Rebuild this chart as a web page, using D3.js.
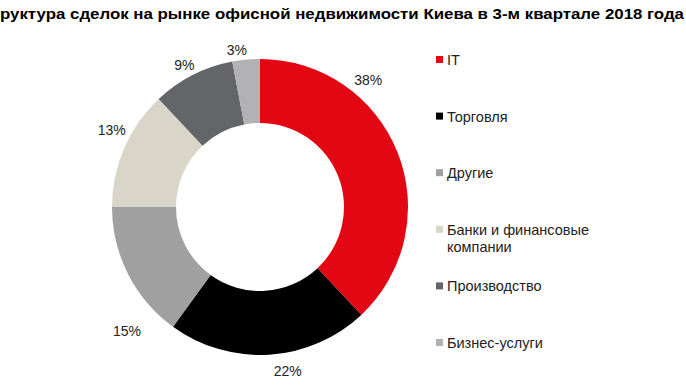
<!DOCTYPE html>
<html>
<head>
<meta charset="utf-8">
<script src="https://cdn.jsdelivr.net/npm/d3@7/dist/d3.min.js"></script>
<style>
  body { margin: 0; background: #fff; overflow: hidden; }
  svg { display: block; font-family: "Liberation Sans", Arial, sans-serif; }
</style>
</head>
<body>
<svg id="chart" width="686" height="386"></svg>
<script>
// Chart data
const categories = ["IT", "Торговля", "Другие", "Банки и финансовые компании", "Производство", "Бизнес-услуги"];
const shares = [38, 22, 15, 13, 9, 3];
const sliceColors = ["#e30613", "#000000", "#a0a0a0", "#d9d5c9", "#636569", "#b2b2b4"];
const legendLines = [["IT"], ["Торговля"], ["Другие"], ["Банки и финансовые", "компании"], ["Производство"], ["Бизнес-услуги"]];
const titleText = "Структура сделок на рынке офисной недвижимости Киева в 3-м квартале 2018 года";

// label placement: nudge (degrees) off the slice middle and distance from centre
const labelShift = [-28, -6, -16, 4, -1, -3];
const labelDist = [167, 166, 182, 167, 161, 159];

const svg = d3.select("#chart");
const cx = 260, cy = 207;
const outerR = 148, innerR = 84;

// Title: cropped on the left like the source
const title = svg.append("text")
    .attr("y", 19)
    .attr("font-size", 15)
    .attr("font-weight", "bold")
    .attr("fill", "#000")
    .text(titleText.slice(2));
const partW = title.node().getComputedTextLength();
title.text(titleText);
const fullW = title.node().getComputedTextLength();
const scaleW = 684 / partW;
title.attr("x", 684 - fullW * scaleW)
    .attr("textLength", fullW * scaleW)
    .attr("lengthAdjust", "spacingAndGlyphs");

const pie = d3.pie().sort(null).value(d => d)(shares);
const arc = d3.arc().innerRadius(innerR).outerRadius(outerR);

const g = svg.append("g").attr("transform", `translate(${cx},${cy})`);

g.selectAll("path")
    .data(pie)
    .enter()
    .append("path")
    .attr("d", arc)
    .attr("fill", (d, i) => sliceColors[i]);

function labelAngle(d, i) {
    return (d.startAngle + d.endAngle) / 2 + labelShift[i] * Math.PI / 180;
}

g.selectAll("text.pct")
    .data(pie)
    .enter()
    .append("text")
    .attr("class", "pct")
    .attr("text-anchor", "middle")
    .attr("dy", "0.35em")
    .attr("font-size", 14)
    .attr("fill", "#222")
    .attr("x", (d, i) => labelDist[i] * Math.sin(labelAngle(d, i)))
    .attr("y", (d, i) => -labelDist[i] * Math.cos(labelAngle(d, i)))
    .text(d => d.data + "%");

// Legend
const legendY = d3.scalePoint().domain(categories).range([60, 343]);
const legend = svg.append("g").selectAll("g")
    .data(categories)
    .enter()
    .append("g")
    .attr("transform", d => `translate(436,${legendY(d)})`);

legend.append("rect")
    .attr("x", 0)
    .attr("y", -4)
    .attr("width", 7)
    .attr("height", 7)
    .attr("fill", (d, i) => sliceColors[i]);

legend.append("text")
    .attr("x", 11)
    .attr("font-size", 14.5)
    .attr("fill", "#222")
    .each(function(d, i) {
        const t = d3.select(this);
        legendLines[i].forEach((line, j) => {
            t.append("tspan")
                .attr("x", 11)
                .attr("y", j * 17 + 5)
                .text(line);
        });
    });
</script>
</body>
</html>
